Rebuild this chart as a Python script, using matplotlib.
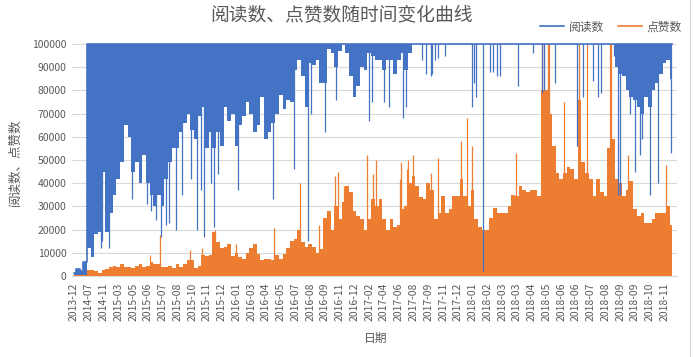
import numpy as np
import matplotlib
matplotlib.use('Agg')
import matplotlib.pyplot as plt
from matplotlib.lines import Line2D

plt.rcParams['font.family'] = ['Noto Sans CJK SC', 'DejaVu Sans']

TEXT_COLOR = '#595959'
GRID_COLOR = '#D9D9D9'
READ_COLOR = '#4472C4'
LIKE_COLOR = '#ED7D31'
Y_CAP = 100000
SAMPLES_PER_LABEL = 4

date_labels = [
    '2013-12', '2014-07', '2014-11', '2015-03', '2015-05', '2015-06', '2015-07',
    '2015-08', '2015-10', '2015-11', '2015-12', '2016-01', '2016-03', '2016-04',
    '2016-05', '2016-07', '2016-08', '2016-09', '2016-11', '2016-12', '2017-02',
    '2017-04', '2017-06', '2017-08', '2017-09', '2017-11', '2017-12', '2018-01',
    '2018-02', '2018-03', '2018-03', '2018-04', '2018-05', '2018-06', '2018-06',
    '2018-07', '2018-08', '2018-09', '2018-09', '2018-10', '2018-11',
]

# 阅读数: lower edge of the dense band (thousands), top is clipped at 100000
read_low_k = [
    0.3, 0.3, 0.3, 0.3, 12, 8, 18, 19, 45, 19, 27, 35, 42, 49, 65, 60,
    45, 49, 40, 52, 40, 35, 30, 35, 30, 42, 49, 55, 55, 62, 66, 70,
    63, 59, 69, 73, 55, 62, 55, 62, 56, 73, 67, 70, 56, 65, 69, 75,
    70, 62, 65, 77, 59, 62, 66, 70, 78, 72, 76, 75, 89, 93, 86, 73,
    92, 91, 93, 83, 83, 98, 96, 90, 97, 100, 96, 86, 77, 82, 90, 89,
    96, 95, 93, 93, 89, 93, 93, 87, 93, 96, 89, 96, 100, 100, 100, 100,
    100, 100, 100, 100, 100, 100, 100, 100, 100, 100, 100, 100, 100, 100, 100, 100,
    100, 100, 100, 100, 100, 100, 100, 100, 100, 100, 100, 100, 100, 100, 100, 100,
    100, 100, 100, 100, 100, 100, 100, 100, 100, 100, 100, 100, 100, 100, 100, 100,
    100, 100, 100, 90, 87, 86, 80, 77, 76, 73, 70, 77, 73, 80, 83, 87,
    92, 93, 85,
]
read_top_early_k = [1.5, 3, 2, 6]
# single deep dips of 阅读数: (sample position, value in thousands)
read_dips = [
    (7.2, 12), (7.6, 15), (9.6, 12), (15.8, 33), (19.7, 31), (20.9, 28),
    (22.2, 24), (23.6, 17), (24.8, 22), (25.7, 23), (27.6, 20), (29.3, 35),
    (31.8, 42), (33.4, 20), (34.4, 37), (35.2, 17), (37.1, 40), (37.9, 21),
    (39.1, 44), (44.5, 37), (54.0, 33), (59.5, 46), (63.3, 15), (64.2, 70),
    (67.9, 62), (71.0, 76), (80.0, 67), (80.8, 75), (84.1, 75), (85.4, 73),
    (89.2, 68), (89.9, 73), (94.4, 93), (95.5, 87), (96.8, 86), (96.9, 87),
    (97.9, 93), (98.7, 94), (100.6, 95), (107.8, 73), (108.5, 83), (108.8, 77),
    (110.9, 2), (112.6, 88), (113.6, 88), (114.7, 86), (115.4, 86), (120.4, 82),
    (124.3, 96), (126.9, 79), (127.3, 80), (130.2, 83), (136.4, 56), (137.8, 77),
    (140.6, 84), (142.1, 77), (142.8, 79), (146.4, 95), (147.5, 35), (147.9, 35),
    (150.7, 70), (152.1, 45), (153.4, 52), (153.9, 59), (156.1, 35), (158.1, 40),
    (161.7, 53),
]

# 点赞数: upper edge of the dense band (thousands)
like_top_k = [
    0.3, 0.3, 0.3, 0.5, 2.5, 2.5, 2, 1.5, 2.5, 3, 4, 4.5, 4, 5, 4, 4,
    3.5, 4.5, 5, 4, 4.5, 6, 5, 5, 4, 4, 4.5, 3.5, 5, 4, 5, 7,
    7, 3.5, 4.5, 9, 8.5, 9, 19, 14.5, 12, 12.5, 14, 8.5, 10, 8, 7.5, 10,
    12, 14, 9.5, 7, 7.5, 7.5, 7, 9, 7.5, 9.5, 12, 15, 16, 20, 14.5, 12.5,
    14, 12.5, 10, 11.5, 25, 28, 20, 30, 24.5, 32, 39, 36, 28, 26, 24.5, 20,
    24.5, 33, 30, 33, 24.5, 20, 24.5, 21, 22, 29, 30, 40, 43, 39, 34, 33,
    40, 37, 24.5, 27, 34.5, 27, 29, 34.5, 34.5, 42, 34.5, 30, 37, 24.5, 21, 20,
    20, 25, 29.5, 27, 27, 27, 30, 35, 34.5, 39, 37, 36, 37, 37, 34.5, 80,
    80, 70, 56, 44.5, 42, 44.5, 47, 46, 42, 76, 49, 44.5, 42, 34.5, 42, 36,
    34.5, 55, 59, 42, 40, 34.5, 37, 41, 29, 26, 27, 23, 23, 24.5, 27, 27,
    27, 30, 22,
]
# single high peaks of 点赞数: (sample position, value in thousands)
like_peaks = [
    (20.6, 9), (23.3, 17.7), (31.3, 11), (34.6, 12), (38.2, 20), (44.0, 14),
    (54.3, 20.5), (61.2, 40), (66.5, 22), (70.6, 43), (71.6, 45), (73.2, 39),
    (79.3, 52), (80.9, 44), (81.7, 50), (88.2, 42), (88.6, 49), (90.3, 46),
    (90.6, 50), (91.9, 52), (96.7, 44.5), (98.7, 51), (104.8, 58), (106.6, 68),
    (107.9, 56), (119.8, 53), (126.7, 100), (127.3, 100), (128.3, 100),
    (128.8, 100), (132.8, 75), (136.7, 100), (139.1, 100), (145.1, 100),
    (145.4, 100), (150.2, 52), (160.3, 48),
]

x = np.arange(len(read_low_k))
read_low = np.array(read_low_k) * 1000
read_top = np.full(len(x), float(Y_CAP))
read_top[:len(read_top_early_k)] = np.array(read_top_early_k) * 1000
like_top = np.array(like_top_k) * 1000

fig = plt.figure(figsize=(6.94, 3.57), dpi=100)
ax = fig.add_axes([72.2 / 694, 1 - 276 / 357, 604.5 / 694, 232 / 357])

# 点赞数 (under)
ax.fill_between(x, 0, like_top, step='mid', color=LIKE_COLOR, lw=0, zorder=2)
pk_pos, pk_val = zip(*like_peaks)
ax.vlines(pk_pos, 0, np.array(pk_val) * 1000, color=LIKE_COLOR, lw=0.9, zorder=2)

# 阅读数 (on top)
ax.fill_between(x, read_low, read_top, step='mid', color=READ_COLOR, lw=0, zorder=3)
ax.plot(x, read_top, drawstyle='steps-mid', color=READ_COLOR, lw=1.2,
        zorder=3, clip_on=False)
dp_pos, dp_val = zip(*read_dips)
ax.vlines(dp_pos, np.array(dp_val) * 1000, Y_CAP, color=READ_COLOR, lw=0.9, zorder=3)

ax.set_xlim(-0.5, 163.3)
ax.set_ylim(0, Y_CAP)
ax.set_yticks(np.arange(0, Y_CAP + 1, 10000))
ax.set_yticklabels([f'{v}' for v in range(0, Y_CAP + 1, 10000)],
                   fontsize=7.5, color=TEXT_COLOR)
ax.set_xticks(np.arange(len(date_labels)) * SAMPLES_PER_LABEL)
ax.set_xticklabels(date_labels, rotation=90, fontsize=7.5, color=TEXT_COLOR)
ax.tick_params(axis='both', length=0)
ax.tick_params(axis='x', pad=5)
ax.tick_params(axis='y', pad=4)
ax.yaxis.grid(True, color=GRID_COLOR, lw=0.8)
ax.set_axisbelow(True)
for side in ('top', 'right', 'left'):
    ax.spines[side].set_visible(False)
ax.spines['bottom'].set_color(GRID_COLOR)
ax.spines['bottom'].set_zorder(1)

fig.text(341 / 694, 1 - 16 / 357, '阅读数、点赞数随时间变化曲线',
         ha='center', va='center', fontsize=13.5, color=TEXT_COLOR)
fig.text(376 / 694, 1 - 338 / 357, '日期', ha='center', va='center',
         fontsize=8.5, color=TEXT_COLOR)
fig.text(15 / 694, 1 - 162 / 357, '阅读数、点赞数', ha='center', va='center',
         rotation=90, fontsize=9, color=TEXT_COLOR)

handles = [Line2D([], [], color=READ_COLOR, lw=1.2),
           Line2D([], [], color=LIKE_COLOR, lw=1.2)]
fig.legend(handles, ['阅读数', '点赞数'], loc='center',
           bbox_to_anchor=(611 / 694, 1 - 27 / 357), ncol=2, frameon=False,
           fontsize=8.5, labelcolor=TEXT_COLOR, handlelength=2.0,
           handletextpad=0.4, columnspacing=1.2)

fig.add_artist(Line2D([690 / 694, 690 / 694], [0, 1], color=GRID_COLOR, lw=0.8))

fig.savefig('out.png', dpi=100)
